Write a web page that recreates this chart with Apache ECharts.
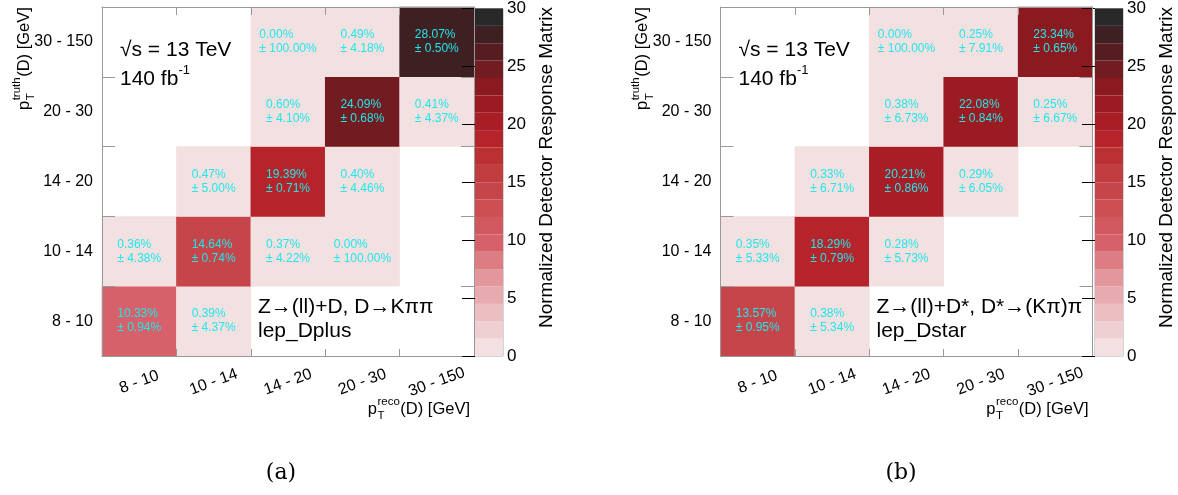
<!DOCTYPE html>
<html>
<head>
<meta charset="utf-8">
<script src="https://cdn.jsdelivr.net/npm/echarts@6/dist/echarts.min.js"></script>
<style>
  html, body { margin: 0; padding: 0; background: #fff; }
  #chart { width: 1178px; height: 495px; }
</style>
</head>
<body>
<div id="chart"></div>
<script>
// pT bins shared by the reco (x) and truth (y) axes
const binLabels = ['8 - 10', '10 - 14', '14 - 20', '20 - 30', '30 - 150'];

// [reco bin, truth bin, response (%), uncertainty (%)]
const dplusCells = [
  [0, 0, 10.33, 0.94], [1, 0, 0.39, 4.37],
  [0, 1, 0.36, 4.38], [1, 1, 14.64, 0.74], [2, 1, 0.37, 4.22], [3, 1, 0.00, 100.00],
  [1, 2, 0.47, 5.00], [2, 2, 19.39, 0.71], [3, 2, 0.40, 4.46],
  [2, 3, 0.60, 4.10], [3, 3, 24.09, 0.68], [4, 3, 0.41, 4.37],
  [2, 4, 0.00, 100.00], [3, 4, 0.49, 4.18], [4, 4, 28.07, 0.50]
];
const dstarCells = [
  [0, 0, 13.57, 0.95], [1, 0, 0.38, 5.34],
  [0, 1, 0.35, 5.33], [1, 1, 18.29, 0.79], [2, 1, 0.28, 5.73],
  [1, 2, 0.33, 6.71], [2, 2, 20.21, 0.86], [3, 2, 0.29, 6.05],
  [2, 3, 0.38, 6.73], [3, 3, 22.08, 0.84], [4, 3, 0.25, 6.67],
  [2, 4, 0.00, 100.00], [3, 4, 0.25, 7.91], [4, 4, 23.34, 0.65]
];

// z-axis range and palette (20 contour levels)
const zMin = 0, zMax = 30, zStep = 1.5, zTickStep = 5;
const bandColors = [
  '#f3e0e1', '#efd0d2', '#ebbec1', '#e7abaf', '#e3979c',
  '#dd7c83', '#d6616a', '#d2585f', '#cd4f54', '#c5454a',
  '#c13c3f', '#bb3033', '#b5232b', '#a91d26', '#9c1a22',
  '#8b1a20', '#721b20', '#561d21', '#3e2023', '#282828'
];

const panels = [
  { cells: dplusCells, left: 102, cbLeft: 475,
    lines: ['Z\u2192(ll)+D, D\u2192K\u03c0\u03c0', 'lep_Dplus'], caption: '(a)', capX: 281 },
  { cells: dstarCells, left: 720.5, cbLeft: 1095,
    lines: ['Z\u2192(ll)+D*, D*\u2192(K\u03c0)\u03c0', 'lep_Dstar'], caption: '(b)', capX: 901 }
];

const SANS = '"Liberation Sans", Arial, sans-serif';
const SERIF = '"DejaVu Serif", "Liberation Serif", serif';
const PLOT_TOP = 7, PLOT_W = 372, PLOT_H = 349, CB_W = 28;
const FRAME = '#999';

const measureCtx = document.createElement('canvas').getContext('2d');
function textWidth(t, size, family) {
  measureCtx.font = size + 'px ' + (family || SANS);
  return measureCtx.measureText(t).width;
}

function txt(text, x, y, size, extra) {
  return Object.assign({
    type: 'text', x: x, y: y, silent: true,
    style: Object.assign({ text: text, fontSize: size, fontFamily: SANS, fill: '#000',
      align: 'left', verticalAlign: 'middle' }, (extra && extra.style) || {})
  }, extra ? { rotation: extra.rotation || 0 } : {});
}

// "p_T^{sup}(D) [GeV]" built from pieces along the local x direction
function ptTitleChildren(sup) {
  const mainSize = 16.5, smallSize = 11.5;
  const wp = textWidth('p', mainSize);
  const ws = Math.max(textWidth(sup, smallSize), textWidth('T', smallSize));
  const tail = '(D) [GeV]';
  const children = [
    txt('p', 0, 0, mainSize),
    txt(sup, wp + 0.5, -7, smallSize),
    txt('T', wp + 0.5, 7, smallSize),
    txt(tail, wp + ws + 1, 0, mainSize)
  ];
  const total = wp + ws + 1 + textWidth(tail, mainSize);
  return { children, total };
}

const grids = [], xAxes = [], yAxes = [], series = [], graphics = [];

panels.forEach((p, k) => {
  const g = grids.length;
  grids.push({ left: p.left, top: PLOT_TOP, width: PLOT_W, height: PLOT_H, show: false });
  grids.push({ left: p.cbLeft, top: PLOT_TOP, width: CB_W, height: PLOT_H, show: true,
    borderColor: '#aaa', borderWidth: 1, backgroundColor: 'transparent' });

  const xb = xAxes.length;
  xAxes.push({
    type: 'category', gridIndex: g, data: binLabels, position: 'bottom', z: 5,
    axisLine: { show: true, lineStyle: { color: FRAME, width: 1 } },
    axisTick: { show: true, inside: true, length: 7, lineStyle: { color: FRAME } },
    axisLabel: { show: true, rotate: 20, align: 'center', verticalAlign: 'middle', margin: 26,
      fontSize: 16, color: '#000', fontFamily: SANS, interval: 0 },
    splitLine: { show: false }
  });
  xAxes.push({
    type: 'category', gridIndex: g, data: binLabels, position: 'top', z: 5,
    axisLine: { show: true, lineStyle: { color: FRAME, width: 1 } },
    axisTick: { show: true, inside: true, length: 8, lineStyle: { color: FRAME } },
    axisLabel: { show: false }, splitLine: { show: false }
  });
  xAxes.push({ type: 'value', gridIndex: g + 1, min: 0, max: 1, show: false });

  const yb = yAxes.length;
  yAxes.push({
    type: 'category', gridIndex: g, data: binLabels, position: 'left', z: 5,
    axisLine: { show: true, lineStyle: { color: FRAME, width: 1 } },
    axisTick: { show: true, inside: true, length: 13, lineStyle: { color: FRAME } },
    axisLabel: { show: true, margin: 9, fontSize: 16, color: '#000', fontFamily: SANS, interval: 0 },
    splitLine: { show: false }
  });
  yAxes.push({
    type: 'category', gridIndex: g, data: binLabels, position: 'right', z: 5,
    axisLine: { show: true, lineStyle: { color: FRAME, width: 1 } },
    axisTick: { show: true, inside: true, length: 13, lineStyle: { color: FRAME } },
    axisLabel: { show: false }, splitLine: { show: false }
  });
  yAxes.push({
    type: 'value', gridIndex: g + 1, position: 'right', min: zMin, max: zMax, interval: zTickStep, z: 5,
    axisLine: { show: false },
    axisTick: { show: true, inside: true, length: 13, lineStyle: { color: '#000' } },
    axisLabel: { show: true, margin: 4, fontSize: 17, color: '#000', fontFamily: SANS },
    splitLine: { show: false }
  });

  // response matrix cells
  series.push({
    type: 'heatmap', xAxisIndex: xb, yAxisIndex: yb,
    data: p.cells.map(c => ({ value: [c[0], c[1], c[2]], err: c[3] })),
    emphasis: { disabled: true },
    label: {
      show: true,
      formatter: prm => '{v|' + prm.value[2].toFixed(2) + '%}\n{v|\u00b1 ' + prm.data.err.toFixed(2) + '%}',
      rich: { v: { align: 'left', color: '#1fe8ea', fontSize: 12, lineHeight: 14, fontFamily: SANS } }
    }
  });

  // colour scale
  series.push({
    type: 'custom', xAxisIndex: xb + 2, yAxisIndex: yb + 2, silent: true,
    data: bandColors.map((c, i) => [zMin + i * zStep, zMin + (i + 1) * zStep]),
    renderItem: (params, api) => {
      const lo = api.coord([0, api.value(0)]);
      const hi = api.coord([1, api.value(1)]);
      return { type: 'rect',
        shape: { x: lo[0], y: hi[1], width: hi[0] - lo[0], height: lo[1] - hi[1] },
        style: { fill: bandColors[params.dataIndex] } };
    }
  });

  // axis titles
  const xt = ptTitleChildren('reco');
  graphics.push({ type: 'group', x: p.left + PLOT_W - 4 - xt.total, y: 409, children: xt.children, silent: true });
  const yt = ptTitleChildren('truth');
  graphics.push({ type: 'group', x: p.left - 78, y: 110, rotation: Math.PI / 2, children: yt.children, silent: true });
  graphics.push(txt('Normalized Detector Response Matrix', p.cbLeft + 72, PLOT_TOP, 19,
    { rotation: Math.PI / 2, style: { align: 'right' } }));

  // labels inside the frame
  const ax = p.left + 18;
  graphics.push(txt('\u221as = 13 TeV', ax, 50, 21));
  graphics.push(txt('140 fb', ax, 79, 21));
  graphics.push(txt('-1', ax + textWidth('140 fb', 21), 70, 13));
  graphics.push(txt(p.lines[0], p.left + 156, 307, 21));
  graphics.push(txt(p.lines[1], p.left + 156, 331, 21));

  // sub-figure caption
  graphics.push(txt(p.caption, p.capX, 473, 22,
    { style: { align: 'center', fontFamily: SERIF } }));
});

const chart = echarts.init(document.getElementById('chart'), null, { renderer: 'canvas' });
chart.setOption({
  backgroundColor: '#fff',
  animation: false,
  grid: grids,
  xAxis: xAxes,
  yAxis: yAxes,
  visualMap: {
    type: 'piecewise', show: false, dimension: 2, seriesIndex: [0, 2],
    pieces: bandColors.map((c, i) => ({
      gte: zMin + i * zStep,
      lt: i === bandColors.length - 1 ? zMax + 1e-6 : zMin + (i + 1) * zStep,
      color: c
    }))
  },
  series: series,
  graphic: graphics
});
</script>
</body>
</html>
